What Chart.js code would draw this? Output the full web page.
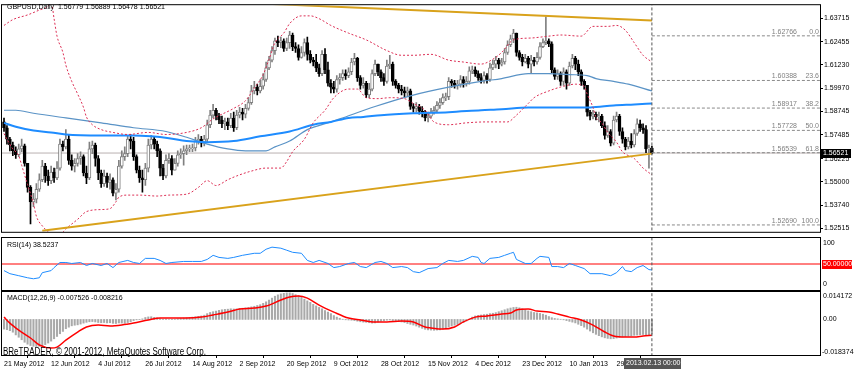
<!DOCTYPE html>
<html lang="en">
<head>
<meta charset="UTF-8" />
<title>GBPUSD Daily</title>
<script src="https://cdn.jsdelivr.net/npm/chart.js@4.4.1/dist/chart.umd.min.js"></script>
<style>
  html, body { margin: 0; padding: 0; background: #fff; }
  body { width: 860px; height: 373px; position: relative; overflow: hidden; }
  .pane { position: absolute; left: 0; width: 860px; }
</style>
</head>
<body>
<div class="pane" style="top:0;height:237px"><canvas id="main"></canvas></div>
<div class="pane" style="top:236px;height:55px"><canvas id="rsi"></canvas></div>
<div class="pane" style="top:290px;height:83px"><canvas id="macd"></canvas></div>

<script>
// daily bars, 21 May 2012 .. 13 Feb 2013 (open = previous close)
const firstOpen = 1.5818;
const close = [
  1.5787,1.5726,1.5695,1.5664,1.5643,1.5674,1.5690,1.5597,1.5469,1.5392,
  1.5407,1.5459,1.5510,1.5582,1.5530,1.5505,1.5551,1.5520,1.5572,1.5700,
  1.5685,1.5726,1.5613,1.5582,1.5597,1.5623,1.5633,1.5546,1.5520,1.5674,
  1.5695,1.5623,1.5546,1.5489,1.5530,1.5495,1.5510,1.5438,1.5459,1.5582,
  1.5633,1.5649,1.5726,1.5716,1.5633,1.5561,1.5520,1.5510,1.5572,1.5695,
  1.5726,1.5700,1.5664,1.5572,1.5530,1.5613,1.5623,1.5561,1.5597,1.5643,
  1.5649,1.5664,1.5674,1.5674,1.5679,1.5716,1.5726,1.5705,1.5726,1.5803,
  1.5854,1.5880,1.5849,1.5828,1.5808,1.5818,1.5798,1.5839,1.5787,1.5854,
  1.5870,1.5859,1.5890,1.5921,1.5983,1.6003,1.5983,1.6008,1.6044,1.6106,
  1.6147,1.6198,1.6250,1.6240,1.6250,1.6209,1.6240,1.6281,1.6219,1.6209,
  1.6162,1.6188,1.6240,1.6178,1.6147,1.6137,1.6106,1.6075,1.6178,1.6096,
  1.6024,1.6003,1.5993,1.6044,1.6054,1.6075,1.6065,1.6085,1.6137,1.6157,
  1.6054,1.6013,1.6024,1.5962,1.5993,1.6075,1.6126,1.6085,1.6054,1.6034,
  1.6116,1.6126,1.6034,1.6013,1.5993,1.5983,1.5972,1.5983,1.5900,1.5890,
  1.5900,1.5875,1.5870,1.5839,1.5849,1.5870,1.5880,1.5906,1.5921,1.5947,
  1.5952,1.6034,1.6024,1.6013,1.6019,1.6044,1.6024,1.6034,1.6090,1.6096,
  1.6075,1.6054,1.6039,1.6065,1.6044,1.6106,1.6126,1.6147,1.6126,1.6137,
  1.6188,1.6229,1.6260,1.6291,1.6188,1.6162,1.6137,1.6157,1.6126,1.6147,
  1.6137,1.6162,1.6219,1.6240,1.6250,1.6234,1.6096,1.6060,1.6075,1.6034,
  1.6085,1.6024,1.6116,1.6157,1.6126,1.6085,1.6034,1.6013,1.5870,1.5849,
  1.5859,1.5844,1.5849,1.5798,1.5746,1.5767,1.5705,1.5828,1.5849,1.5767,
  1.5726,1.5685,1.5716,1.5695,1.5756,1.5808,1.5787,1.5777,1.5674,1.56779,
  1.56521
];
const high = [
  1.5839,1.5798,1.5736,1.5710,1.5685,1.5700,1.5726,1.5700,1.5597,1.5479,
  1.5438,1.5489,1.5541,1.5613,1.5597,1.5561,1.5582,1.5572,1.5607,1.5726,
  1.5716,1.5777,1.5746,1.5643,1.5623,1.5649,1.5659,1.5643,1.5582,1.5710,
  1.5716,1.5705,1.5638,1.5561,1.5561,1.5546,1.5541,1.5520,1.5489,1.5613,
  1.5664,1.5685,1.5746,1.5751,1.5736,1.5643,1.5582,1.5561,1.5597,1.5726,
  1.5746,1.5736,1.5716,1.5674,1.5592,1.5643,1.5649,1.5638,1.5623,1.5664,
  1.5674,1.5690,1.5695,1.5695,1.5700,1.5736,1.5751,1.5741,1.5746,1.5828,
  1.5880,1.5911,1.5890,1.5864,1.5849,1.5839,1.5839,1.5864,1.5870,1.5880,
  1.5895,1.5890,1.5911,1.5947,1.6013,1.6034,1.6019,1.6044,1.6075,1.6137,
  1.6168,1.6219,1.6265,1.6275,1.6270,1.6260,1.6265,1.6301,1.6291,1.6240,
  1.6229,1.6219,1.6260,1.6270,1.6198,1.6162,1.6178,1.6126,1.6198,1.6209,
  1.6137,1.6044,1.6034,1.6065,1.6075,1.6096,1.6096,1.6106,1.6157,1.6183,
  1.6162,1.6065,1.6054,1.6034,1.6024,1.6096,1.6147,1.6126,1.6096,1.6075,
  1.6147,1.6173,1.6137,1.6044,1.6024,1.6013,1.6003,1.6003,1.5993,1.5916,
  1.5921,1.5911,1.5900,1.5880,1.5870,1.5890,1.5900,1.5926,1.5942,1.5967,
  1.5972,1.6054,1.6044,1.6039,1.6039,1.6065,1.6060,1.6060,1.6111,1.6116,
  1.6111,1.6090,1.6075,1.6085,1.6075,1.6132,1.6147,1.6168,1.6157,1.6157,
  1.6209,1.6250,1.6281,1.6311,1.6291,1.6198,1.6178,1.6178,1.6168,1.6173,
  1.6162,1.6188,1.6240,1.6260,1.6378,1.6260,1.6245,1.6106,1.6096,1.6085,
  1.6106,1.6096,1.6137,1.6178,1.6168,1.6147,1.6096,1.6044,1.6013,1.5880,
  1.5880,1.5870,1.5870,1.5859,1.5818,1.5798,1.5777,1.5849,1.5870,1.5859,
  1.5787,1.5736,1.5736,1.5756,1.5777,1.5834,1.5828,1.5808,1.5798,1.5695,
  1.56889
];
const low = [
  1.5767,1.5700,1.5664,1.5638,1.5623,1.5633,1.5659,1.5582,1.5443,1.5274,
  1.5366,1.5387,1.5448,1.5500,1.5495,1.5479,1.5489,1.5495,1.5510,1.5561,
  1.5664,1.5674,1.5592,1.5561,1.5551,1.5582,1.5592,1.5530,1.5489,1.5510,
  1.5649,1.5582,1.5510,1.5469,1.5474,1.5469,1.5459,1.5423,1.5402,1.5443,
  1.5572,1.5613,1.5633,1.5674,1.5613,1.5546,1.5495,1.5443,1.5479,1.5551,
  1.5674,1.5674,1.5633,1.5530,1.5510,1.5520,1.5597,1.5536,1.5561,1.5582,
  1.5623,1.5587,1.5643,1.5659,1.5659,1.5664,1.5700,1.5685,1.5690,1.5710,
  1.5787,1.5839,1.5828,1.5808,1.5787,1.5777,1.5777,1.5787,1.5767,1.5777,
  1.5839,1.5828,1.5839,1.5880,1.5911,1.5967,1.5962,1.5972,1.5993,1.6034,
  1.6096,1.6137,1.6178,1.6219,1.6214,1.6193,1.6198,1.6209,1.6198,1.6188,
  1.6147,1.6157,1.6168,1.6147,1.6132,1.6116,1.6085,1.6060,1.6065,1.6075,
  1.6008,1.5972,1.5972,1.5977,1.6019,1.6039,1.6044,1.6054,1.6070,1.6121,
  1.6034,1.5993,1.5998,1.5947,1.5947,1.5983,1.6065,1.6065,1.6034,1.6013,
  1.6024,1.6101,1.6013,1.5998,1.5972,1.5962,1.5952,1.5957,1.5885,1.5870,
  1.5870,1.5859,1.5844,1.5823,1.5818,1.5839,1.5859,1.5870,1.5890,1.5911,
  1.5931,1.5936,1.6003,1.5998,1.5993,1.6003,1.6003,1.6008,1.6019,1.6075,
  1.6060,1.6039,1.6024,1.6024,1.6024,1.6034,1.6096,1.6106,1.6101,1.6116,
  1.6126,1.6178,1.6219,1.6240,1.6168,1.6147,1.6116,1.6132,1.6106,1.6075,
  1.6116,1.6126,1.6152,1.6214,1.6229,1.6219,1.6080,1.6044,1.6044,1.6013,
  1.6013,1.5993,1.6013,1.6106,1.6096,1.6065,1.6013,1.5993,1.5849,1.5828,
  1.5834,1.5828,1.5818,1.5787,1.5726,1.5736,1.5690,1.5695,1.5818,1.5746,
  1.5705,1.5669,1.5674,1.5679,1.5685,1.5746,1.5767,1.5756,1.5654,1.5572,
  1.56478
];

// indicators: [bar index, value]
const ma100 = [[0,1.5880],[4,1.5880],[10,1.5864],[21,1.5839],[33,1.5813],[44,1.5787],[55,1.5767],[62,1.5736],[69,1.5700],[76,1.5674],[82,1.5664],[89,1.5664],[92,1.5685],[97,1.5716],[103,1.5777],[111,1.5818],[114,1.5834],[126,1.5900],[138,1.5957],[151,1.6003],[162,1.6034],[169,1.6049],[178,1.6075],[185,1.6075],[192,1.6070],[198,1.6065],[201,1.6049],[207,1.6034],[212,1.6019],[220,1.5983]];
const ma200 = [[0,1.5813],[4,1.5792],[10,1.5772],[16,1.5762],[21,1.5751],[33,1.5746],[44,1.5746],[50,1.5741],[56,1.5731],[62,1.5716],[69,1.5710],[78,1.5716],[87,1.5741],[97,1.5767],[105,1.5803],[111,1.5818],[117,1.5839],[122,1.5844],[128,1.5854],[139,1.5864],[151,1.5870],[162,1.5880],[169,1.5885],[178,1.5895],[199,1.5895],[207,1.5906],[214,1.5911],[220,1.5916]];
const bbUpper = [[0,1.6332],[3,1.6363],[8,1.6388],[12,1.6414],[15,1.6435],[16,1.6460],[17,1.6368],[18,1.6275],[20,1.6188],[21,1.6121],[23,1.6034],[25,1.5967],[27,1.5895],[28,1.5844],[30,1.5803],[33,1.5777],[37,1.5762],[42,1.5751],[49,1.5762],[55,1.5751],[62,1.5762],[67,1.5787],[71,1.5834],[78,1.5890],[82,1.5931],[85,1.5998],[88,1.6070],[90,1.6152],[92,1.6240],[95,1.6291],[97,1.6342],[101,1.6383],[104,1.6383],[107,1.6368],[111,1.6332],[117,1.6291],[123,1.6255],[130,1.6198],[135,1.6173],[139,1.6173],[145,1.6178],[151,1.6147],[156,1.6137],[162,1.6126],[166,1.6152],[169,1.6188],[173,1.6255],[179,1.6265],[185,1.6275],[189,1.6281],[196,1.6275],[200,1.6327],[205,1.6327],[208,1.6332],[211,1.6306],[214,1.6240],[217,1.6173],[220,1.6137]];
const bbLower = [[0,1.5756],[1,1.5726],[3,1.5674],[5,1.5638],[6,1.5587],[8,1.5484],[10,1.5382],[11,1.5315],[13,1.5264],[15,1.5233],[18,1.5202],[21,1.5248],[25,1.5299],[28,1.5340],[33,1.5351],[36,1.5356],[38,1.5392],[39,1.5417],[42,1.5428],[46,1.5428],[52,1.5423],[56,1.5428],[62,1.5433],[66,1.5469],[69,1.5505],[72,1.5479],[76,1.5510],[79,1.5530],[84,1.5556],[89,1.5572],[94,1.5572],[96,1.5607],[98,1.5659],[102,1.5726],[105,1.5813],[109,1.5880],[112,1.5947],[117,1.5993],[120,1.5993],[123,1.5947],[127,1.5942],[131,1.5947],[136,1.5942],[139,1.5916],[143,1.5880],[146,1.5818],[151,1.5803],[157,1.5813],[164,1.5818],[171,1.5818],[174,1.5854],[178,1.5916],[180,1.5947],[185,1.5983],[190,1.6008],[194,1.6019],[197,1.6008],[198,1.5967],[200,1.5895],[201,1.5844],[203,1.5813],[205,1.5762],[208,1.5710],[210,1.5659],[214,1.5623],[217,1.5572],[220,1.5536]];
const trendLow = [[13,1.5238],[220,1.5649]];
const trendHigh = [[90,1.6447],[220,1.6358]];
const fibLevels = [1.62766,1.60388,1.58917,1.57728,1.56539,1.52690];
const fibNames = ['0.0','23.6','38.2','50.0','61.8','100.0'];
const lastPrice = 1.56521;
const markBar = 220;

const rsi = [[0,37.3],[2,31.4],[5,27.5],[8,23.5],[10,21.6],[12,23.5],[13,33.3],[16,37.3],[17,43.1],[19,52.9],[21,52.9],[23,51.0],[26,52.9],[28,47.1],[30,51.0],[33,47.1],[35,51.0],[37,43.1],[39,52.9],[42,56.9],[44,52.9],[46,51.0],[48,60.8],[51,60.8],[53,56.9],[55,51.0],[57,52.9],[61,54.9],[64,54.9],[67,54.9],[69,58.8],[71,66.7],[73,62.7],[76,60.8],[78,62.7],[81,66.7],[85,70.6],[87,70.6],[89,78.4],[91,82.4],[94,80.4],[96,76.5],[98,72.5],[101,70.6],[103,56.9],[105,52.9],[107,56.9],[110,51.0],[112,43.1],[114,45.1],[117,51.0],[119,52.9],[121,45.1],[123,43.1],[126,52.9],[128,54.9],[130,51.0],[132,43.1],[135,45.1],[137,43.1],[139,35.3],[141,33.3],[144,41.2],[147,43.1],[149,51.0],[151,56.9],[154,54.9],[156,56.9],[159,64.7],[161,62.7],[162,52.9],[163,51.0],[165,60.8],[168,62.7],[170,66.7],[172,70.6],[173,72.5],[174,58.8],[177,51.0],[179,51.0],[181,60.8],[182,64.7],[185,62.7],[186,45.1],[188,45.1],[190,43.1],[192,51.0],[194,47.1],[197,41.2],[199,31.4],[203,31.4],[206,27.5],[208,33.3],[210,45.1],[211,37.3],[213,35.3],[215,43.1],[217,47.1],[219,39.2],[220,38.5237]];

const macdHist = [
  -0.0050,-0.0053,-0.0058,-0.0066,-0.0080,-0.0092,-0.0105,-0.0118,-0.0128,-0.0135,
  -0.0139,-0.0140,-0.0139,-0.0136,-0.0130,-0.0122,-0.0112,-0.0100,-0.0088,-0.0074,
  -0.0062,-0.0048,-0.0040,-0.0033,-0.0030,-0.0028,-0.0024,-0.0019,-0.0015,-0.0012,
  -0.0011,-0.0013,-0.0016,-0.0017,-0.0016,-0.0018,-0.0017,-0.0020,-0.0021,-0.0018,
  -0.0019,-0.0020,-0.0016,-0.0012,-0.0006,-0.0002,-0.0001,0.0003,0.0010,0.0013,
  0.0014,0.0011,0.0008,0.0004,0.0001,0.0002,0.0000,-0.0001,0.0001,0.0003,
  0.0005,0.0007,0.0009,0.0010,0.0012,0.0014,0.0016,0.0018,0.0022,0.0030,
  0.0036,0.0040,0.0043,0.0047,0.0050,0.0052,0.0053,0.0055,0.0054,0.0055,
  0.0057,0.0058,0.0060,0.0062,0.0065,0.0068,0.0072,0.0076,0.0083,0.0091,
  0.0100,0.0110,0.0120,0.0127,0.0132,0.0135,0.0137,0.0137,0.0134,0.0128,
  0.0122,0.0114,0.0105,0.0096,0.0088,0.0078,0.0070,0.0062,0.0055,0.0046,
  0.0038,0.0030,0.0020,0.0012,0.0006,0.0001,-0.0002,-0.0003,-0.0004,-0.0006,
  -0.0009,-0.0012,-0.0014,-0.0015,-0.0017,-0.0019,-0.0018,-0.0013,-0.0009,-0.0007,
  -0.0004,-0.0003,-0.0006,-0.0009,-0.0011,-0.0013,-0.0016,-0.0021,-0.0025,-0.0029,
  -0.0034,-0.0040,-0.0046,-0.0051,-0.0054,-0.0055,-0.0056,-0.0055,-0.0054,-0.0050,
  -0.0044,-0.0038,-0.0034,-0.0030,-0.0026,-0.0021,-0.0016,-0.0008,0.0002,0.0012,
  0.0018,0.0021,0.0023,0.0025,0.0027,0.0030,0.0032,0.0035,0.0040,0.0045,
  0.0050,0.0055,0.0059,0.0062,0.0063,0.0060,0.0055,0.0050,0.0044,0.0040,
  0.0036,0.0034,0.0031,0.0027,0.0022,0.0015,0.0009,0.0005,0.0003,0.0001,
  -0.0002,-0.0006,-0.0010,-0.0014,-0.0018,-0.0025,-0.0032,-0.0040,-0.0050,-0.0060,
  -0.0069,-0.0077,-0.0084,-0.0090,-0.0095,-0.0098,-0.0100,-0.0099,-0.0096,-0.0093,
  -0.0090,-0.0089,-0.0087,-0.0085,-0.0082,-0.0081,-0.0079,-0.0078,-0.0080,-0.0079,
  -0.007526
];
const macdSignal = [[0,0.0012],[2,-0.0019],[5,-0.0055],[9,-0.0096],[12,-0.0132],[16,-0.0148],[18,-0.0143],[21,-0.0107],[25,-0.0065],[28,-0.0039],[32,-0.0029],[36,-0.0034],[40,-0.0029],[44,-0.0019],[49,-0.0003],[53,0.0007],[57,0.0007],[62,0.0007],[67,0.0012],[71,0.0023],[76,0.0038],[80,0.0054],[85,0.0059],[89,0.0069],[94,0.0100],[97,0.0116],[100,0.0121],[103,0.0110],[107,0.0074],[112,0.0038],[117,0.0007],[121,-0.0003],[126,-0.0013],[130,-0.0013],[135,-0.0008],[139,-0.0013],[143,-0.0039],[145,-0.0044],[149,-0.0050],[153,-0.0039],[156,-0.0013],[160,0.0012],[164,0.0018],[169,0.0028],[172,0.0033],[174,0.0049],[178,0.0054],[181,0.0043],[185,0.0038],[188,0.0028],[192,0.0012],[196,-0.0003],[200,-0.0029],[204,-0.0065],[207,-0.0086],[211,-0.0091],[214,-0.0091],[217,-0.0086],[220,-0.008216]];

const priceTicks = [1.63715,1.62455,1.61230,1.59970,1.58745,1.57485,1.56225,1.55000,1.53740,1.52515];
const dateTicks = [0,16,32,48,64,80,96,112,128,144,160,176,192,208];
const dateLabels = ['21 May 2012','12 Jun 2012','4 Jul 2012','26 Jul 2012','14 Aug 2012','2 Sep 2012','20 Sep 2012','9 Oct 2012','28 Oct 2012','15 Nov 2012','4 Dec 2012','23 Dec 2012','10 Jan 2013','29 Jan 2013'];

const FONT = '"Liberation Sans", Arial, sans-serif';
const X_MIN = -0.68, X_MAX = 277.08;
const open = close.map((c, i) => i ? close[i - 1] : firstOpen);
const bull = close.map((c, i) => c >= open[i]);
const pts = arr => arr.map(p => ({ x: p[0], y: p[1] }));

function line(data, color, width, extra) {
  return Object.assign({ type: 'line', data: data, borderColor: color, borderWidth: width,
    pointRadius: 0, fill: false, tension: 0 }, extra || {});
}
function frame(ctx, a) {
  ctx.save();
  ctx.strokeStyle = '#000';
  ctx.lineWidth = 1;
  ctx.strokeRect(a.left - 0.5, a.top - 0.5, a.right - a.left + 1, a.bottom - a.top + 1);
  ctx.restore();
}
function text(ctx, s, x, y, color, size, align) {
  ctx.font = (size || 7) + 'px ' + FONT;
  ctx.fillStyle = color;
  ctx.textAlign = align || 'left';
  ctx.textBaseline = 'middle';
  ctx.fillText(s, x, y);
}
const xHidden = { type: 'linear', min: X_MIN, max: X_MAX, offset: false, display: false };
const yBlank = { position: 'right', afterFit: s => { s.width = 40; },
  ticks: { display: false }, grid: { display: false }, border: { display: false } };
const common = { responsive: true, maintainAspectRatio: false, animation: false, events: [],
  plugins: { legend: { display: false }, tooltip: { enabled: false } } };

// ---------- price pane ----------
new Chart(document.getElementById('main'), {
  type: 'bar',
  data: {
    datasets: [
      line([{ x: -2, y: lastPrice }, { x: 280, y: lastPrice }], '#b9b0b0', 1, { order: 30 }),
      { type: 'bar', order: 21, grouped: false, barThickness: 1,
        data: close.map((c, i) => ({ x: i, y: [low[i], high[i]] })),
        backgroundColor: bull.map(b => b ? '#808080' : '#000') },
      { type: 'bar', order: 20, grouped: false, barThickness: 3, minBarLength: 1,
        borderWidth: 1, borderSkipped: false,
        data: close.map((c, i) => ({ x: i, y: [open[i], c] })),
        backgroundColor: bull.map(b => b ? '#fff' : '#000'),
        borderColor: bull.map(b => b ? '#808080' : '#000') },
      line(pts(ma100), '#5a93c6', 1.2, { order: 6, cubicInterpolationMode: 'monotone' }),
      line(pts(ma200), '#1e8cff', 2, { order: 5, cubicInterpolationMode: 'monotone' }),
      line(pts(bbUpper), '#dc2f55', 1, { order: 4, borderDash: [2, 2], cubicInterpolationMode: 'monotone' }),
      line(pts(bbLower), '#dc2f55', 1, { order: 4, borderDash: [2, 2], cubicInterpolationMode: 'monotone' }),
      line(pts(trendLow), '#d9a21b', 2, { order: 3 }),
      line(pts(trendHigh), '#d9a21b', 2, { order: 3 }),
      ...fibLevels.map(v => line([{ x: markBar, y: v }, { x: 280, y: v }], '#8a8a8a', 1, { order: 2, borderDash: [3, 2] })),
      line([{ x: markBar, y: 1.50 }, { x: markBar, y: 1.70 }], '#555', 1, { order: 1, borderDash: [3, 2] })
    ]
  },
  options: Object.assign({}, common, {
    layout: { padding: { left: 2, top: 1, right: 0, bottom: 1 } },
    scales: {
      x: xHidden,
      y: {
        position: 'right', min: 1.52325, max: 1.64398,
        afterFit: s => { s.width = 40; },
        afterBuildTicks: s => { s.ticks = priceTicks.map(v => ({ value: v })); },
        ticks: { autoSkip: false, padding: 1, color: '#000', font: { family: FONT, size: 7 },
          callback: v => v.toFixed(5) },
        grid: { drawOnChartArea: false, tickLength: 3, color: '#000' },
        border: { display: false }
      }
    }
  }),
  plugins: [{
    id: 'mainOverlay',
    afterDraw(chart) {
      const { ctx, chartArea, scales } = chart;
      frame(ctx, chartArea);
      text(ctx, 'GBPUSD,Daily  1.56779 1.56889 1.56478 1.56521', 7, 7, '#000');
      fibLevels.forEach((v, k) => {
        const py = scales.y.getPixelForValue(v) - 4;
        text(ctx, v.toFixed(5), 797, py, '#808080', 7, 'right');
        text(ctx, fibNames[k], 819, py, '#808080', 7, 'right');
      });
      const py = Math.round(scales.y.getPixelForValue(lastPrice));
      ctx.fillStyle = '#000';
      ctx.fillRect(821, py - 4, 30, 9);
      text(ctx, lastPrice.toFixed(5), 823, py + 0.5, '#fff');
    }
  }]
});

// ---------- RSI pane ----------
new Chart(document.getElementById('rsi'), {
  type: 'line',
  data: {
    datasets: [
      line([{ x: -2, y: 50 }, { x: 280, y: 50 }], '#ff0000', 1, { order: 3 }),
      line(pts(rsi), '#1e8cff', 1, { order: 2 }),
      line([{ x: markBar, y: -20 }, { x: markBar, y: 120 }], '#555', 1, { order: 1, borderDash: [3, 2] })
    ]
  },
  options: Object.assign({}, common, {
    layout: { padding: { left: 2, top: 2, right: 0, bottom: 1 } },
    scales: { x: xHidden, y: Object.assign({}, yBlank, { min: 0, max: 100 }) }
  }),
  plugins: [{
    id: 'rsiOverlay',
    afterDraw(chart) {
      const { ctx, chartArea } = chart;
      frame(ctx, chartArea);
      text(ctx, 'RSI(14) 38.5237', 7, 9, '#000');
      text(ctx, '100', 823, 7, '#000');
      text(ctx, '0', 823, 48, '#000');
      ctx.fillStyle = '#ff0000';
      ctx.fillRect(822, 24, 30, 9);
      text(ctx, '50.00000', 823, 28.5, '#fff');
    }
  }]
});

// ---------- MACD pane ----------
new Chart(document.getElementById('macd'), {
  type: 'bar',
  data: {
    datasets: [
      { type: 'bar', order: 3, grouped: false, barThickness: 1.4,
        data: macdHist.map((v, i) => ({ x: i, y: v })), backgroundColor: '#a9a9a9' },
      line(pts(macdSignal), '#ff0000', 1.5, { order: 2, cubicInterpolationMode: 'monotone' }),
      line([{ x: markBar, y: -0.05 }, { x: markBar, y: 0.05 }], '#555', 1, { order: 1, borderDash: [3, 2] })
    ]
  },
  options: Object.assign({}, common, {
    layout: { padding: { left: 2, top: 2, right: 0, bottom: 0 } },
    scales: {
      x: {
        type: 'linear', min: X_MIN, max: X_MAX, offset: false,
        afterBuildTicks: s => { s.ticks = dateTicks.map(v => ({ value: v })); },
        afterFit: s => { s.height = 18; },
        ticks: { autoSkip: false, maxRotation: 0, align: 'start', padding: 2, color: '#000',
          font: { family: FONT, size: 7 }, callback: (v, i) => dateLabels[i] },
        grid: { drawOnChartArea: false, tickLength: 3, color: '#000' },
        border: { display: false }
      },
      y: Object.assign({}, yBlank, { min: -0.018374, max: 0.014172 })
    }
  }),
  plugins: [{
    id: 'macdOverlay',
    afterDraw(chart) {
      const { ctx, chartArea } = chart;
      frame(ctx, chartArea);
      text(ctx, 'MACD(12,26,9) -0.007526 -0.008216', 7, 8, '#000');
      text(ctx, '0.014172', 823, 6, '#000');
      text(ctx, '0.00', 823, 29.5, '#000');
      text(ctx, '-0.018374', 822, 62, '#000');
      ctx.save();
      ctx.translate(3, 65);
      ctx.scale(0.8, 1);
      ctx.font = '10px ' + FONT;
      ctx.fillStyle = '#000';
      ctx.textAlign = 'left';
      ctx.textBaseline = 'alphabetic';
      ctx.fillText('BReTRADER, \u00a9 2001-2012, MetaQuotes Software Corp.', 0, 0);
      ctx.restore();
      ctx.fillStyle = '#555';
      ctx.fillRect(624, 68, 57, 11);
      text(ctx, '2013.02.13 00:00', 626, 73.5, '#fff');
    }
  }]
});
</script>
</body>
</html>
